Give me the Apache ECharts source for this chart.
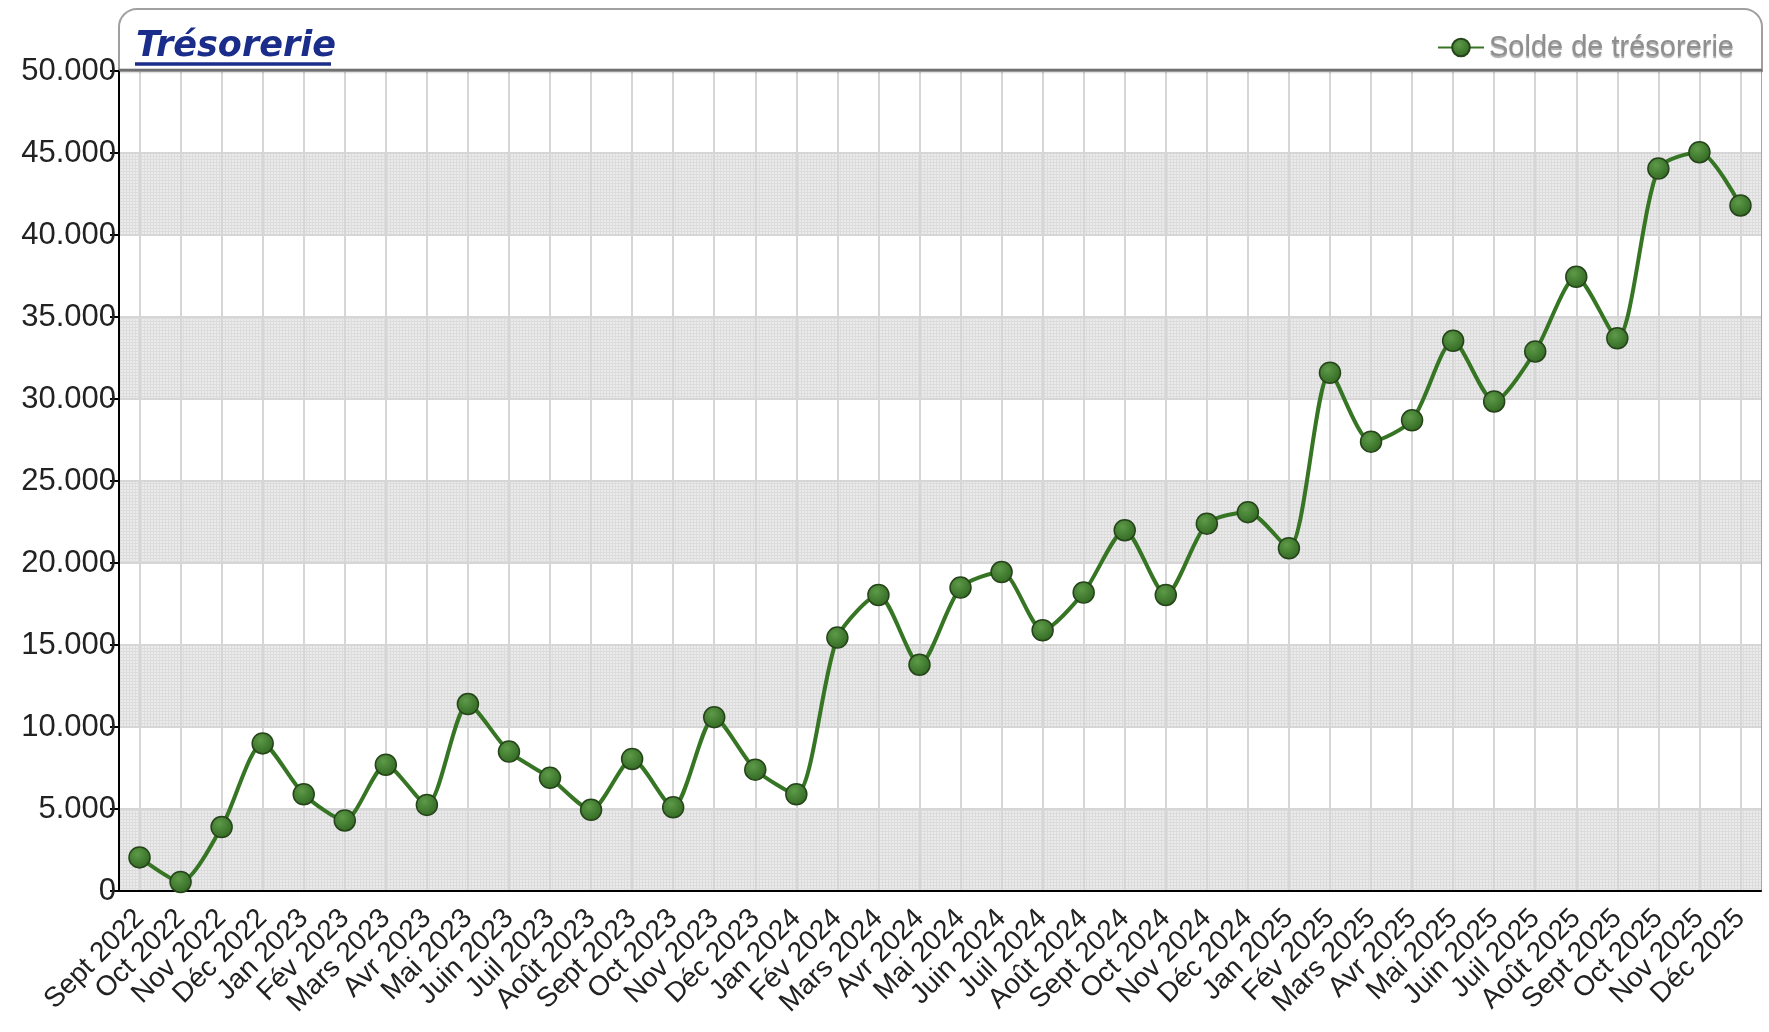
<!DOCTYPE html>
<html>
<head>
<meta charset="utf-8">
<script src="https://cdn.jsdelivr.net/npm/echarts@6/dist/echarts.min.js"></script>
<style>html,body{margin:0;padding:0;background:#fff;}#c{width:1769px;height:1032px;}</style>
</head>
<body>
<div id="c"></div>
<script>
var categories = ['Sept 2022','Oct 2022','Nov 2022','Déc 2022','Jan 2023','Fév 2023','Mars 2023','Avr 2023','Mai 2023','Juin 2023','Juil 2023','Août 2023','Sept 2023','Oct 2023','Nov 2023','Déc 2023','Jan 2024','Fév 2024','Mars 2024','Avr 2024','Mai 2024','Juin 2024','Juil 2024','Août 2024','Sept 2024','Oct 2024','Nov 2024','Déc 2024','Jan 2025','Fév 2025','Mars 2025','Avr 2025','Mai 2025','Juin 2025','Juil 2025','Août 2025','Sept 2025','Oct 2025','Nov 2025','Déc 2025'];
var soldeTresorerie = [2050,550,3900,9000,5900,4300,7700,5250,11400,8500,6900,4950,8050,5100,10600,7400,5900,15450,18050,13800,18500,19450,15900,18200,22000,18050,22400,23100,20900,31600,27400,28700,33550,29850,32900,37450,33700,44050,45050,41800];
var yTickLabels = ['0','5.000','10.000','15.000','20.000','25.000','30.000','35.000','40.000','45.000','50.000'];
var seriesName = 'Solde de trésorerie';
var chartTitle = 'Trésorerie';

var font = '"Liberation Sans", Arial, sans-serif';

// fine pattern for shaded bands
var pc = document.createElement('canvas');
pc.width = 3; pc.height = 3;
var pctx = pc.getContext('2d');
pctx.fillStyle = '#ebebeb'; pctx.fillRect(0,0,3,3);
pctx.fillStyle = '#dcdcdc'; pctx.fillRect(0,0,3,1); pctx.fillRect(0,0,1,3);

var chart = echarts.init(document.getElementById('c'));
chart.setOption({
  backgroundColor: '#fff',
  animation: false,
  title: {
    text: chartTitle,
    left: 131, top: 24,
    textStyle: { fontFamily: '"DejaVu Sans", Verdana, sans-serif', fontSize: 35, fontWeight: 'bold', fontStyle: 'italic', color: '#1b2d8a' }
  },
  legend: {
    right: 30, top: 28,
    itemWidth: 46, itemHeight: 22,
    textStyle: { fontFamily: font, fontSize: 29, color: '#8f8f8f', textShadowColor: 'rgba(0,0,0,0.35)', textShadowOffsetY: 2, textShadowBlur: 1 },
    data: [seriesName]
  },
  graphic: [
    { type: 'rect', z: -1, shape: { x: 119, y: 9, width: 1643, height: 62, r: [18,18,0,0] },
      style: { fill: '#fff', stroke: '#a0a0a0', lineWidth: 2 } },
    { type: 'line', z: 10, shape: { x1: 119, y1: 70, x2: 1762, y2: 70 },
      style: { stroke: '#707070', lineWidth: 2.5, shadowColor: 'rgba(0,0,0,0.3)', shadowBlur: 2, shadowOffsetY: 1 } },
    { type: 'line', z: 10, shape: { x1: 135, y1: 64, x2: 331, y2: 64 },
      style: { stroke: '#1b2d8a', lineWidth: 3.5 } }
  ],
  grid: { left: 119, right: 8, top: 71, bottom: 141, show: true, borderColor: '#a8a8a8', borderWidth: 2 },
  xAxis: {
    type: 'category',
    data: categories,
    boundaryGap: true,
    axisLine: { lineStyle: { color: '#000', width: 2 } },
    axisTick: { alignWithLabel: true, length: 7, lineStyle: { color: '#000', width: 2 } },
    axisLabel: { interval: 0, rotate: 45, margin: 23, fontFamily: font, fontSize: 28, color: '#222' },
    splitLine: { show: true, alignWithLabel: true, lineStyle: { color: '#d6d6d6', width: 2 } }
  },
  yAxis: {
    type: 'value',
    min: 0, max: 50000, interval: 5000,
    axisLine: { show: true, lineStyle: { color: '#000', width: 2 } },
    axisTick: { show: true, length: 9, lineStyle: { color: '#000', width: 2 } },
    axisLabel: { margin: 3, fontFamily: font, fontSize: 31, color: '#222',
      formatter: function (v) { return yTickLabels[Math.round(v / 5000)]; } },
    splitLine: { show: true, lineStyle: { color: '#d6d6d6', width: 2 } },
    splitArea: { show: true, areaStyle: { color: [{ image: pc, repeat: 'repeat' }, '#ffffff'] } }
  },
  series: [{
    name: seriesName,
    type: 'line',
    data: soldeTresorerie,
    smooth: 0.25,
    symbol: 'circle',
    symbolSize: 21,
    lineStyle: { color: '#367524', width: 4 },
    itemStyle: {
      color: new echarts.graphic.RadialGradient(0.4, 0.35, 0.7, [
        { offset: 0, color: '#5d9a48' }, { offset: 1, color: '#2f6620' }
      ]),
      borderColor: '#26441a', borderWidth: 1.5
    },
    z: 5
  }]
});
</script>
</body>
</html>
